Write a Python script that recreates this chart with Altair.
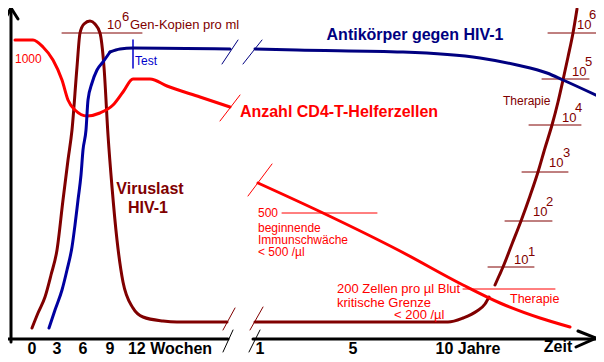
import altair as alt
import pandas as pd

# ---- schematic coordinates (chart units: x to the right, y downward) ----
DARKRED = "#800000"
RED = "#ff0000"
NAVY = "#000080"
BLUE = "#0000a0"
TESTBLUE = "#0000cc"
BLACK = "#000000"

# Viruslast (weeks)
viral_weeks_x = [32, 38, 45, 51, 57, 63, 68, 72, 77, 80, 84, 90, 95, 100, 104, 108, 112, 117, 123, 133, 143, 163, 177, 227]
viral_weeks_y = [328, 313, 297, 275, 250, 200, 160, 130, 67, 33, 24, 21, 24, 33, 67, 135, 187, 240, 282, 308, 317, 321, 322, 322]
# Viruslast (years)
viral_years_x = [255, 448, 463, 477, 485, 489]
viral_years_y = [322, 322, 318, 311, 304, 297]
# Viruslast under therapy / rising
viral_rise_x = [495, 499, 503, 512, 521, 530, 538, 545, 552, 558, 563, 568, 573, 577]
viral_rise_y = [285, 276, 267, 244, 221, 196, 172, 148, 125, 102, 80, 57, 33, 9]

# CD4 T helper cells
cd4_weeks_x = [15, 33, 43, 53, 62, 68, 75, 87, 100, 113, 123, 133, 150, 167, 200, 230]
cd4_weeks_y = [40, 40, 47, 60, 80, 100, 110, 116, 113, 105, 92, 79, 79, 86, 97, 107]
cd4_years_x = [258, 323, 400, 463, 500, 540, 570]
cd4_years_y = [183, 213, 251, 285, 303, 318, 327]

# Antikörper
ab_rise_x = [49, 55, 62, 67, 72, 75, 78, 81, 83, 86, 88, 92, 97, 103, 110]
ab_rise_y = [328, 310, 290, 270, 247, 225, 200, 175, 150, 130, 100, 83, 70, 62, 52]
ab_weeks_x = [110, 120, 133, 230]
ab_weeks_y = [52, 49, 48, 49]
ab_years_x = [255, 297, 403, 480, 517, 547, 563, 600]
ab_years_y = [49, 50, 52, 58, 65, 73, 80, 97]

curves = [
    ("viral_w", viral_weeks_x, viral_weeks_y, DARKRED, 3),
    ("viral_y", viral_years_x, viral_years_y, DARKRED, 3),
    ("viral_r", viral_rise_x, viral_rise_y, DARKRED, 3),
    ("cd4_w", cd4_weeks_x, cd4_weeks_y, RED, 3),
    ("cd4_y", cd4_years_x, cd4_years_y, RED, 3),
    ("ab_r", ab_rise_x, ab_rise_y, BLUE, 3),
    ("ab_w", ab_weeks_x, ab_weeks_y, NAVY, 3),
    ("ab_y", ab_years_x, ab_years_y, NAVY, 3),
]
rows = []
for name, xs, ys, col, w in curves:
    for i, (a, b) in enumerate(zip(xs, ys)):
        rows.append({"series": name, "i": i, "x": a, "y": b, "color": col, "w": w})
curve_df = pd.DataFrame(rows)

# thin lines, breaks and axes: (x, y, x2, y2, color, width)
seg_x = [62, 133, 282, 463, 488, 505, 522, 529, 542, 548,
         222, 243, 220, 248, 223, 250, 223, 249,
         11, 5, 253, 5, 11, 578, 596]
seg_y = [33, 40, 213, 289, 267, 221, 172, 125, 79, 33,
         64, 64, 121, 196, 330, 330, 352, 352,
         9, 339, 339, 19, 8, 331, 338]
seg_x2 = [142, 133, 377, 555, 534, 552, 568, 581, 589, 596,
          238, 262, 240, 272, 235, 263, 233, 260,
          11, 228, 596, 11, 18, 596, 576]
seg_y2 = [33, 68, 213, 289, 267, 221, 172, 125, 79, 33,
          40, 40, 95, 164, 308, 307, 330, 330,
          342, 339, 339, 8, 19, 338, 347]
seg_c = [DARKRED, TESTBLUE, RED, RED] + [DARKRED] * 6 + \
        [NAVY, NAVY, RED, RED, DARKRED, DARKRED, BLACK, BLACK] + [BLACK] * 7
seg_w = [1, 1.5, 1, 1] + [1] * 6 + [1] * 8 + [3] * 7
seg_df = pd.DataFrame({"x": seg_x, "y": seg_y, "x2": seg_x2, "y2": seg_y2,
                       "color": seg_c, "w": seg_w})

# bold labels (centered)
bold_text = ["Antikörper gegen HIV-1", "Anzahl CD4-T-Helferzellen", "Viruslast", "HIV-1"]
bold_x = [415, 339, 150, 148]
bold_y = [35, 112, 189, 208]
bold_c = [NAVY, RED, DARKRED, DARKRED]
bold_df = pd.DataFrame({"x": bold_x, "y": bold_y, "t": bold_text, "color": bold_c})

# axis tick labels (bold, sitting on their baseline)
tick_text = ["0", "3", "6", "9", "12 Wochen", "1", "5", "10 Jahre", "Zeit"]
tick_x = [32, 57, 83, 110, 170, 260, 353, 468, 558]
tick_y = [354, 354, 354, 354, 354, 354, 354, 354, 352]
tick_df = pd.DataFrame({"x": tick_x, "y": tick_y, "t": tick_text})

# normal labels (left aligned)
norm_text = ["1000", "10", "6", "Gen-Kopien pro ml", "Test", "Therapie",
             "500", "beginnende", "Immunschwäche", "< 500 /µl",
             "200 Zellen pro µl Blut", "kritische Grenze", "< 200 /µl", "Therapie",
             "10", "1", "10", "2", "10", "3", "10", "4", "10", "5", "10", "6"]
norm_x = [15, 107, 122, 130, 135, 503,
          258, 258, 258, 258,
          337, 337, 394, 510,
          514, 528, 533, 546, 549, 563, 562, 575, 572, 585, 577, 589]
norm_y = [59, 25, 17, 25, 61, 101,
          213, 228, 240, 252,
          289, 303, 315, 299,
          260, 252, 212, 202, 163, 153, 118, 108, 72, 62, 25, 15]
norm_c = [RED, DARKRED, DARKRED, DARKRED, TESTBLUE, DARKRED,
          RED, RED, RED, RED, RED, RED, RED, RED] + [DARKRED] * 12
norm_s = [12, 13, 13, 13, 12, 12,
          12, 12, 12, 12, 13, 13, 13, 12.5] + [13] * 12
norm_df = pd.DataFrame({"x": norm_x, "y": norm_y, "t": norm_text, "color": norm_c, "s": norm_s})

X = alt.X("x:Q", scale=alt.Scale(domain=[8, 596], nice=False, zero=False), axis=None)
Y = alt.Y("y:Q", scale=alt.Scale(domain=[8, 354], nice=False, zero=False, reverse=True), axis=None)

lines = alt.Chart(curve_df).mark_line(interpolate="monotone", strokeCap="round").encode(
    x=X, y=Y, detail="series:N", order="i:Q",
    color=alt.Color("color:N", scale=None),
    strokeWidth=alt.StrokeWidth("w:Q", scale=None),
)

segs = alt.Chart(seg_df).mark_rule(strokeCap="round").encode(
    x=X, y=Y, x2="x2:Q", y2="y2:Q",
    color=alt.Color("color:N", scale=None),
    strokeWidth=alt.StrokeWidth("w:Q", scale=None),
)

bold = alt.Chart(bold_df).mark_text(font="Liberation Sans", fontWeight="bold", fontSize=16,
                                    align="center", baseline="middle").encode(
    x=X, y=Y, text="t:N", color=alt.Color("color:N", scale=None))

ticks = alt.Chart(tick_df).mark_text(font="Liberation Sans", fontWeight="bold", fontSize=16,
                                     align="center", baseline="alphabetic", color=BLACK).encode(
    x=X, y=Y, text="t:N")

norm = alt.Chart(norm_df).mark_text(font="Liberation Sans", align="left", baseline="middle").encode(
    x=X, y=Y, text="t:N", color=alt.Color("color:N", scale=None),
    size=alt.Size("s:Q", scale=None))

chart = alt.layer(segs, lines, bold, ticks, norm).properties(
    width=588, height=346, padding=0, autosize=alt.AutoSizeParams(type="none"),
    background="white",
).configure_view(stroke=None)

chart.save("out.html", embed_options={"renderer": "svg", "actions": False})
